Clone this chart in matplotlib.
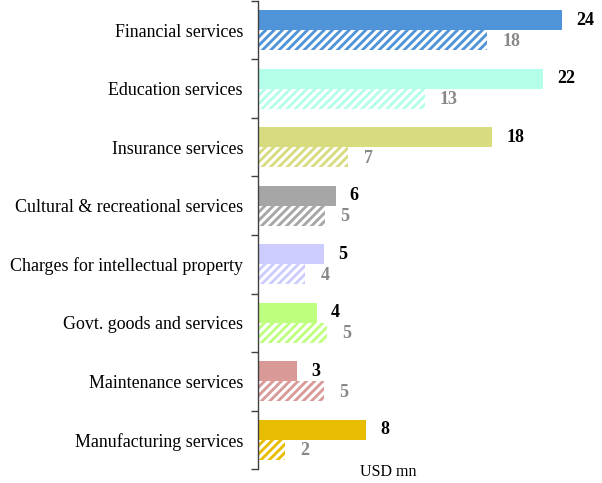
import matplotlib
matplotlib.use("Agg")
import matplotlib.pyplot as plt
import numpy as np

categories = ["Financial services", "Education services", "Insurance services",
              "Cultural & recreational services", "Charges for intellectual property",
              "Govt. goods and services", "Maintenance services", "Manufacturing services"]
current = [23.9, 22.4, 18.4, 6.1, 5.2, 4.6, 3.1, 8.5]
previous = [18.0, 13.1, 7.1, 5.3, 3.7, 5.4, 5.2, 2.1]
current_labels = ["24", "22", "18", "6", "5", "4", "3", "8"]
previous_labels = ["18", "13", "7", "5", "4", "5", "5", "2"]
colors = ["#4F94D8", "#B3FFEA", "#D7DC7E", "#A6A6A6", "#CCCCFF", "#BFFF80", "#D99A97", "#E8BC00"]

plt.rcParams['font.family'] = ['Liberation Serif', 'DejaVu Serif']
plt.rcParams['hatch.linewidth'] = 2.2

fig = plt.figure(figsize=(6.02, 4.83), dpi=100)
ax = fig.add_axes([258/602, 14/483, 332/602, 468/483])

n = len(categories)
y = np.arange(n)
h = 0.34
for i in range(n):
    ax.barh(y[i] - h/2, current[i], height=h, color=colors[i], linewidth=0)
    ax.barh(y[i] + h/2, previous[i], height=h, facecolor=colors[i], edgecolor="white",
            hatch="////", linewidth=0)
    ax.text(current[i] + 1.1, y[i] - h/2, current_labels[i], fontsize=13, fontweight="bold",
            color="black", va="center", ha="left")
    ax.text(previous[i] + 1.2, y[i] + h/2 + 0.02, previous_labels[i], fontsize=13, fontweight="bold",
            color="#888888", va="center", ha="left")

ax.set_xlim(0, 26.1)
ax.set_ylim(n - 0.5, -0.5)
ax.set_yticks(np.arange(-0.5, n, 1.0))
ax.set_yticklabels([])
ax.set_yticks(y, minor=True)
ax.set_yticklabels(categories, minor=True, fontsize=12.9)
ax.tick_params(axis="y", which="major", length=5, direction="out", color="#404040", width=1)
ax.tick_params(axis="y", which="minor", length=0, pad=10.8)
ax.set_xticks([])
for s in ["top", "right", "bottom"]:
    ax.spines[s].set_visible(False)
ax.spines["left"].set_color("#404040")
ax.spines["left"].set_linewidth(1)

fig.text(388/602, 1 - 472/483, "USD mn", fontsize=11.5, ha="center", va="center")

fig.savefig("out.png", dpi=100)
